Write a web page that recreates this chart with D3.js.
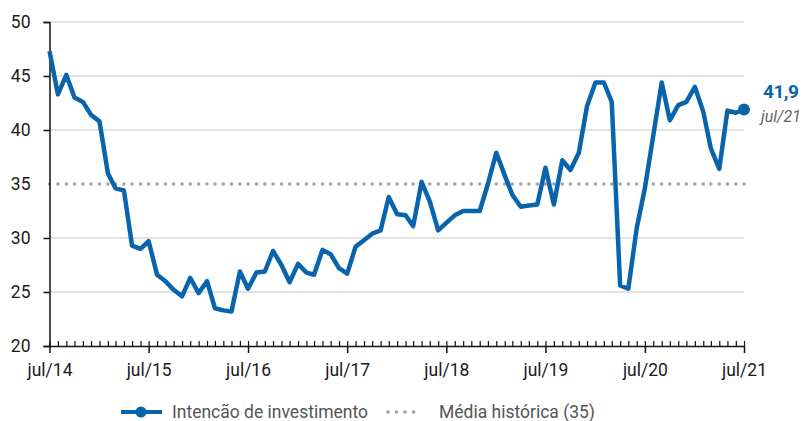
<!DOCTYPE html>
<html>
<head>
<meta charset="utf-8">
<script src="https://cdn.jsdelivr.net/npm/d3@7"></script>
<style>
  body { margin: 0; background: #fff; }
  text { font-family: Roboto, "Open Sans", sans-serif; }
</style>
</head>
<body>
<div class="chart"></div>
<script>
// monthly values, jul/14 .. jul/21
var firstMonth = new Date(2014, 6, 1);
var intencao = [
  47.3, 43.3, 45.1, 43.0, 42.6, 41.4, 40.8, 36.0, 34.6, 34.4, 29.3, 29.0,
  29.7, 26.6, 26.0, 25.2, 24.6, 26.3, 24.9, 26.0, 23.5, 23.3, 23.2, 26.9,
  25.3, 26.8, 26.9, 28.8, 27.5, 25.9, 27.6, 26.8, 26.6, 28.9, 28.5, 27.2,
  26.7, 29.2, 29.8, 30.4, 30.7, 33.8, 32.2, 32.1, 31.1, 35.2, 33.4, 30.7,
  31.4, 32.1, 32.5, 32.5, 32.5, 35.0, 37.9, 35.8, 34.0, 32.9, 33.0, 33.1,
  36.5, 33.1, 37.2, 36.3, 37.9, 42.2, 44.4, 44.4, 42.6, 25.6, 25.3, 30.9,
  34.6, 39.5, 44.4, 40.9, 42.3, 42.6, 44.0, 41.7, 38.3, 36.4, 41.8, 41.6,
  41.9
];
var mediaHistorica = 35;
var yTicks = [20, 25, 30, 35, 40, 45, 50];
var lastLabel = "41,9";
var lastMonthLabel = "jul/21";
var legendLabels = ["Intencão de investimento", "Média histórica (35)"];

var blue = "#0a64ac";

var margin = {top: 22, right: 58, bottom: 75, left: 49.5},
    width = 802 - margin.left - margin.right,
    height = 421 - margin.top - margin.bottom;

var data = intencao.map(function(v, i) {
  return {date: d3.timeMonth.offset(firstMonth, i), value: v};
});

var svg = d3.select(".chart")
  .append("svg")
  .attr("width", 802)
  .attr("height", 421);

var g = svg.append("g")
  .attr("transform", "translate(" + margin.left + "," + margin.top + ")");

var x = d3.scaleTime()
  .domain([firstMonth, data[data.length - 1].date])
  .range([0, width]);

var y = d3.scaleLinear()
  .domain([20, 50])
  .range([height, 0]);

// gridlines
g.selectAll(".grid")
  .data(yTicks.filter(function(d) { return d != 20 && d != mediaHistorica; }))
  .enter()
  .append("line")
  .attr("x1", 0)
  .attr("x2", width)
  .attr("y1", function(d) { return y(d); })
  .attr("y2", function(d) { return y(d); })
  .attr("stroke", "#c8c8c8")
  .attr("stroke-width", 1.2);

// historical average, one dot per month
g.selectAll(".avg")
  .data(data)
  .enter()
  .append("circle")
  .attr("cx", function(d) { return x(d.date); })
  .attr("cy", y(mediaHistorica))
  .attr("r", 1.8)
  .attr("fill", "#a3a3a3");

// y axis
var yAxis = g.append("g")
  .call(d3.axisLeft(y).tickValues(yTicks).tickSize(6).tickPadding(13));
yAxis.select(".domain").attr("stroke", "#111").attr("stroke-width", 1.5);
yAxis.selectAll(".tick line").attr("stroke", "#111").attr("stroke-width", 1.5);
yAxis.selectAll("text").attr("font-size", "17.5px").attr("fill", "#1a1a1a");
yAxis.selectAll(".tick").filter(function(d) { return d == 35; }).select("line").remove();

// x axis: monthly minor ticks pointing up
var xMinor = g.append("g")
  .attr("transform", "translate(0," + height + ")")
  .call(d3.axisBottom(x).ticks(d3.timeMonth.every(1)).tickSize(-5).tickSizeOuter(0).tickFormat(""));
xMinor.select(".domain").attr("stroke", "#111").attr("stroke-width", 1.5);
xMinor.selectAll(".tick line").attr("stroke", "#111").attr("stroke-width", 1.2);

// x axis: july major ticks
var xMajor = g.append("g")
  .attr("transform", "translate(0," + height + ")")
  .call(d3.axisBottom(x)
    .ticks(d3.timeMonth.filter(function(d) { return d.getMonth() == 6; }))
    .tickSize(7)
    .tickPadding(11)
    .tickFormat(function(d) { return "jul/" + d3.timeFormat("%y")(d); }));
xMajor.select(".domain").remove();
xMajor.selectAll(".tick line").attr("stroke", "#111").attr("stroke-width", 1.5);
xMajor.selectAll("text").attr("font-size", "17.5px").attr("fill", "#1a1a1a");

// main line
var line = d3.line()
  .x(function(d) { return x(d.date); })
  .y(function(d) { return y(d.value); });

g.append("path")
  .datum(data)
  .attr("fill", "none")
  .attr("stroke", blue)
  .attr("stroke-width", 4.5)
  .attr("stroke-linejoin", "round")
  .attr("d", line);

var last = data[data.length - 1];
g.append("circle")
  .attr("cx", x(last.date))
  .attr("cy", y(last.value))
  .attr("r", 6)
  .attr("fill", blue);

g.append("text")
  .attr("x", x(last.date) + 19)
  .attr("y", y(last.value) - 11)
  .attr("font-size", "19px")
  .attr("font-weight", "bold")
  .attr("letter-spacing", "-0.5px")
  .attr("fill", blue)
  .text(lastLabel);

g.append("text")
  .attr("x", x(last.date) + 17)
  .attr("y", y(last.value) + 13)
  .attr("font-size", "16px")
  .attr("font-style", "italic")
  .attr("fill", "#666")
  .text(lastMonthLabel);

// legend
var legend = svg.append("g")
  .attr("transform", "translate(0,412)");

legend.append("line")
  .attr("x1", 121).attr("x2", 162)
  .attr("y1", 0).attr("y2", 0)
  .attr("stroke", blue)
  .attr("stroke-width", 4);
legend.append("circle")
  .attr("cx", 141).attr("cy", 0).attr("r", 5.5)
  .attr("fill", blue);
legend.append("text")
  .attr("x", 172).attr("y", 6)
  .attr("font-size", "17.5px")
  .attr("fill", "#555")
  .text(legendLabels[0]);

legend.selectAll(".ldot")
  .data([0, 1, 2, 3])
  .enter()
  .append("circle")
  .attr("cx", function(d) { return 388 + d * 8.5; })
  .attr("cy", 0)
  .attr("r", 1.8)
  .attr("fill", "#a3a3a3");
legend.append("text")
  .attr("x", 439).attr("y", 6)
  .attr("font-size", "17.5px")
  .attr("fill", "#555")
  .text(legendLabels[1]);
</script>
</body>
</html>
